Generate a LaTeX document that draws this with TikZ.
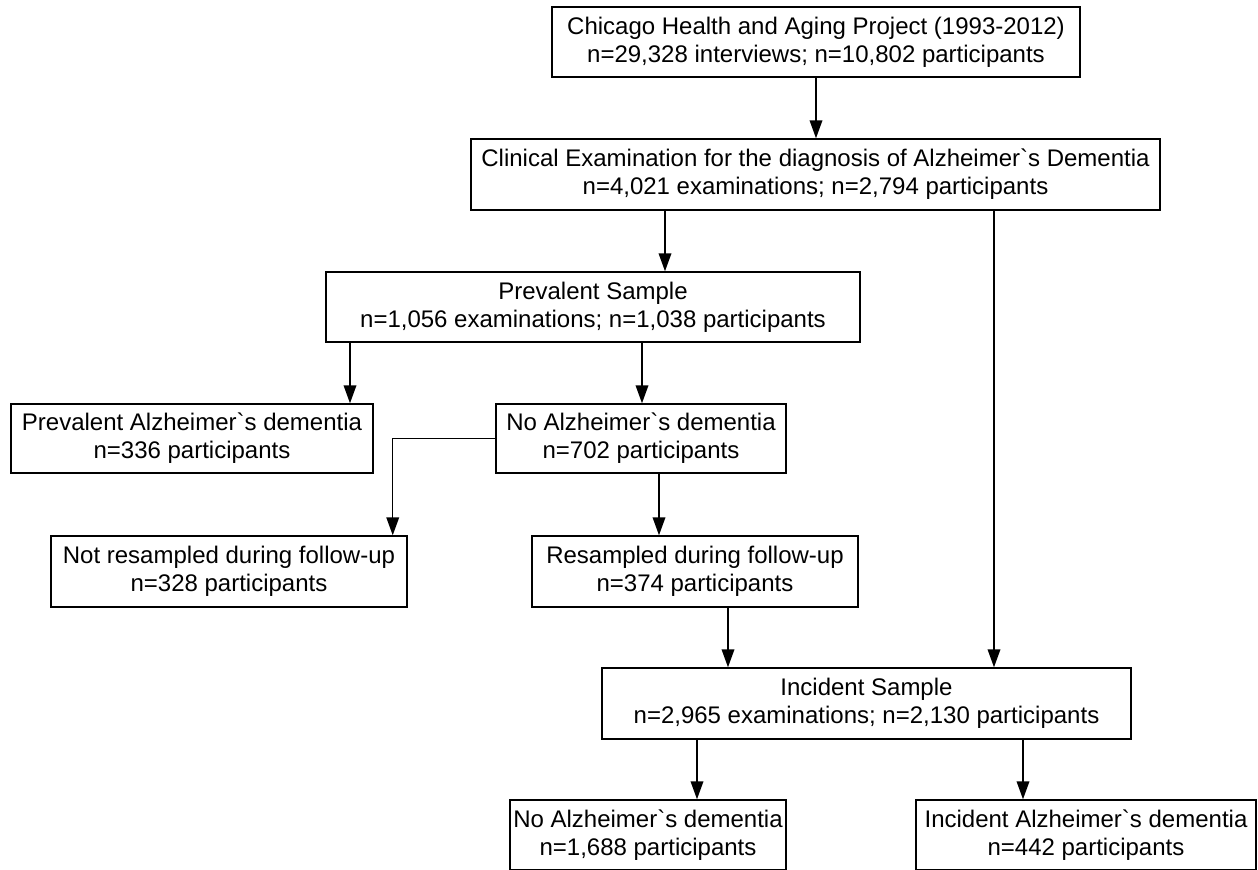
\documentclass[tikz,border=0pt]{standalone}
\usepackage{fontspec}
\setmainfont{Liberation Sans}[Ligatures=TeXOff]
\usetikzlibrary{arrows.meta,calc}
\tikzset{
  box/.style={draw=black, line width=1.1pt, fill=white, align=center, inner sep=0pt,
    font=\fontsize{18pt}{21pt}\selectfont},
  arr/.style={draw=black, line width=1.1pt, -{Triangle[length=13.5pt,width=9.5pt]}},
}
\newcommand\mybox[6]{\node[box, minimum width={(#4-#2)*0.75pt}, minimum height={(#5-#3)*0.75pt}] (#1) at ({(#2+#4)/2},{(#3+#5)/2}) {#6};}
\begin{document}
\begin{tikzpicture}[x=0.75pt,y=-0.75pt]
\useasboundingbox (0,0) rectangle (1258,869);
\clip (0,0) rectangle (1258,869);
\mybox{B1}{552}{7}{1080}{77}{Chicago Health and Aging Project (1993-2012)\\n=29,328 interviews; n=10,802 participants}
\mybox{B2}{471}{139}{1160}{210}{Clinical Examination for the diagnosis of Alzheimer`s Dementia\\n=4,021 examinations; n=2,794 participants}
\mybox{B3}{326}{272}{860}{342}{Prevalent Sample\\n=1,056 examinations; n=1,038 participants}
\mybox{B4}{11}{404}{373}{473}{Prevalent Alzheimer`s dementia\\n=336 participants}
\mybox{B5}{496}{404}{786}{473}{No Alzheimer`s dementia\\n=702 participants}
\mybox{B6}{51}{536}{407}{607}{Not resampled during follow-up\\n=328 participants}
\mybox{B7}{532}{536}{858}{607}{Resampled during follow-up\\n=374 participants}
\mybox{B8}{602}{668}{1131}{739}{Incident Sample\\n=2,965 examinations; n=2,130 participants}
\mybox{B9}{510}{800}{786}{870}{No Alzheimer`s dementia\\n=1,688 participants}
\mybox{B10}{916}{800}{1256}{870}{Incident Alzheimer`s dementia\\n=442 participants}
% connectors
\draw[arr] (B1.south) -- (B1.south |- B2.north);
\coordinate (a2) at ([xshift=-150.5*0.75pt]B2.south);
\draw[arr] (a2) -- (a2 |- B3.north);
\coordinate (a3) at ([xshift=178.5*0.75pt]B2.south);
\draw[arr] (a3) -- (a3 |- B8.north);
\coordinate (a4) at ([xshift=-243*0.75pt]B3.south);
\draw[arr] (a4) -- (a4 |- B4.north);
\coordinate (a5) at ([xshift=49*0.75pt]B3.south);
\draw[arr] (a5) -- (a5 |- B5.north);
\coordinate (a6) at ([xshift=-15*0.75pt]B6.north east);
\draw[arr] (B5.west) -| (a6);
\coordinate (a7) at ([xshift=18*0.75pt]B5.south);
\draw[arr] (a7) -- (a7 |- B7.north);
\coordinate (a8) at ([xshift=33*0.75pt]B7.south);
\draw[arr] (a8) -- (a8 |- B8.north);
\coordinate (a9) at ([xshift=-169.5*0.75pt]B8.south);
\draw[arr] (a9) -- (a9 |- B9.north);
\coordinate (a10) at ([xshift=156.5*0.75pt]B8.south);
\draw[arr] (a10) -- (a10 |- B10.north);
\end{tikzpicture}
\end{document}
